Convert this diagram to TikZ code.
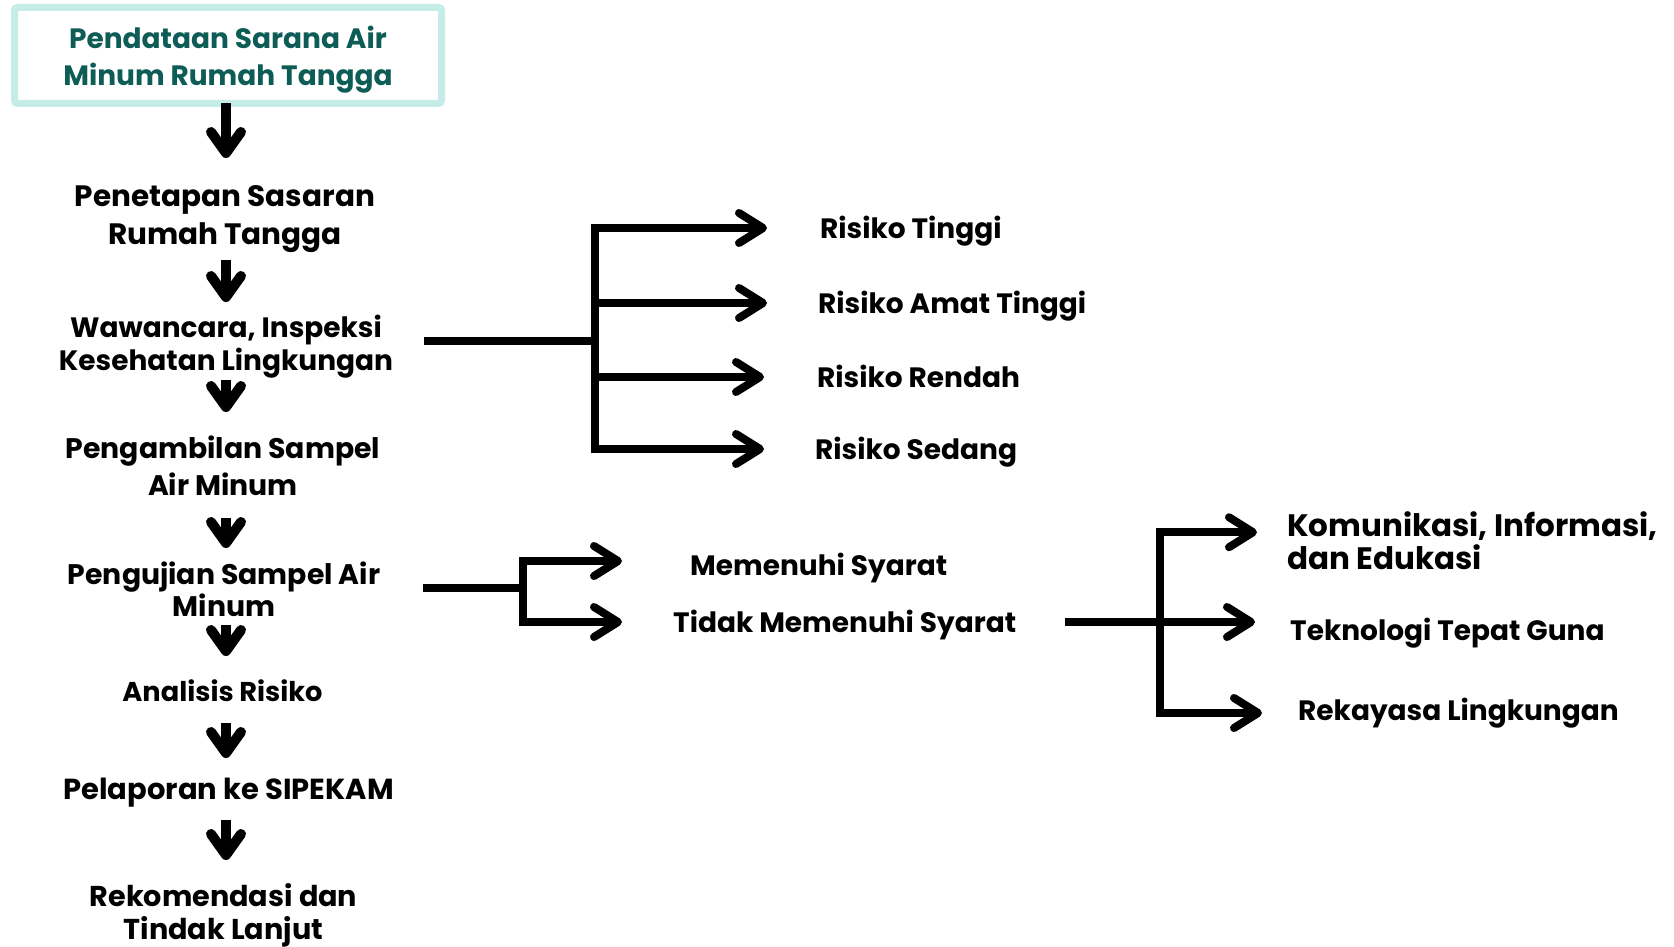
\documentclass[tikz,border=0pt]{standalone}
\usepackage{fontspec}
\setmainfont{Poppins}
\usetikzlibrary{arrows.meta}
\definecolor{boxline}{HTML}{C6ECE7}
\definecolor{boxtext}{HTML}{0D5C55}
\begin{document}
\begin{tikzpicture}[x=1pt,y=-1pt,
  topbox/.style={draw=boxline, line width=7pt, rounded corners=3pt, minimum width=427pt, minimum height=96pt, inner sep=0pt, align=center, text=boxtext, font=\bfseries\fontsize{28}{37}\selectfont},
  col/.style={inner sep=0pt, anchor=north, align=center, font=\bfseries\fontsize{28}{33}\selectfont},
  lbl/.style={inner sep=0pt, anchor=west, text height=20pt, text depth=0pt, font=\bfseries\fontsize{28}{33}\selectfont},
  conn/.style={line width=8pt},
  barb/.style={-{Straight Barb[length=24pt, width=30pt, round]}},
  darr/.style={line width=10pt, -{Straight Barb[length=21pt, width=30pt, round]}}
]
\fill[white] (0,0) rectangle (1674,947);
\useasboundingbox (0,0) rectangle (1674,947);

% left column
\node[topbox] (pd) at (228,55.5) {\rule{0pt}{31pt}Pendataan Sarana Air\\Minum Rumah Tangga};
\node[col, font=\bfseries\fontsize{29.5}{38}\selectfont] (pt) at (225,185) {Penetapan Sasaran\\Rumah Tangga};
\node[col, font=\bfseries\fontsize{28}{32.5}\selectfont] (w) at (226,315) {Wawancara, Inspeksi\\Kesehatan Lingkungan};
\node[col, font=\bfseries\fontsize{28.3}{37}\selectfont] (pa) at (223,436) {Pengambilan Sampel\\Air Minum};
\node[col, font=\bfseries\fontsize{28.3}{32}\selectfont] (pu) at (224,562) {Pengujian Sampel Air\\Minum};
\node[col, font=\bfseries\fontsize{27.2}{33}\selectfont] (ar) at (222.5,680) {Analisis Risiko};
\node[col, font=\bfseries\fontsize{29}{33}\selectfont] (pl) at (228.5,778) {Pelaporan ke SIPEKAM};
\node[col, font=\bfseries\fontsize{28.7}{33}\selectfont] (rk) at (223.5,883) {Rekomendasi dan\\Tindak Lanjut};

% right labels
\node[lbl] (rt) at (820,228) {Risiko Tinggi};
\node[lbl] (ra) at (818,303) {Risiko Amat Tinggi};
\node[lbl] (rr) at (817,377) {Risiko Rendah};
\node[lbl] (rs) at (815,449) {Risiko Sedang};
\node[lbl] (ms) at (690,565) {Memenuhi Syarat};
\node[lbl] (tm) at (673,622) {Tidak Memenuhi Syarat};
\node[inner sep=0pt, anchor=north west, align=left, font=\bfseries\fontsize{31}{33}\selectfont] (ki) at (1287,511) {Komunikasi, Informasi,\\dan Edukasi};
\node[lbl] (tg) at (1290,630) {Teknologi Tepat Guna};
\node[lbl] (rl) at (1298,710) {Rekayasa Lingkungan};

% down arrows
\coordinate (ax) at (226,0);
\draw[darr, shorten <=-4pt, shorten >=27pt] (pd.south -| ax) -- (pt.north -| ax);
\draw[darr, shorten <=7pt, shorten >=13pt] (pt.south -| ax) -- (w.north -| ax);
\draw[darr, shorten <=2pt, shorten >=24pt] (w.south -| ax) -- (pa.north -| ax);
\draw[darr, shorten <=22pt, shorten >=14pt] (pa.south -| ax) -- (pu.north -| ax);
\draw[darr, shorten <=8pt, shorten >=24pt] (pu.south -| ax) -- (ar.north -| ax);
\draw[darr, shorten <=21pt, shorten >=20pt] (ar.south -| ax) -- (pl.north -| ax);
\draw[darr, shorten <=12pt, shorten >=23pt] (pl.south -| ax) -- (rk.north -| ax);

% branch 1
\coordinate (f1) at (424,341);
\coordinate (j1) at (595,341);
\draw[conn] (f1) -- (j1);
\foreach \n/\s in {rt/53,ra/51,rr/53,rs/51}
  \draw[conn, barb, shorten >=\s pt] (j1) |- (\n.west);

% branch 2
\coordinate (f2) at (423,588);
\coordinate (j2) at (522.5,588);
\draw[conn] (f2) -- (j2);
\draw[conn, barb, shorten >=68pt] (j2) |- ([yshift=4pt]ms.west);
\draw[conn, barb, shorten >=51pt] (j2) |- (tm.west);

% branch 3
\coordinate (f3) at (1065,622);
\coordinate (j3) at (1160,622);
\draw[conn, barb, shorten >=35pt] (f3) -- ([yshift=8pt]tg.west);
\draw[conn, barb, shorten >=30pt] (j3) |- ([yshift=8pt]ki.west);
\draw[conn, barb, shorten >=36pt] (j3) |- ([yshift=-3pt]rl.west);
\end{tikzpicture}
\end{document}
